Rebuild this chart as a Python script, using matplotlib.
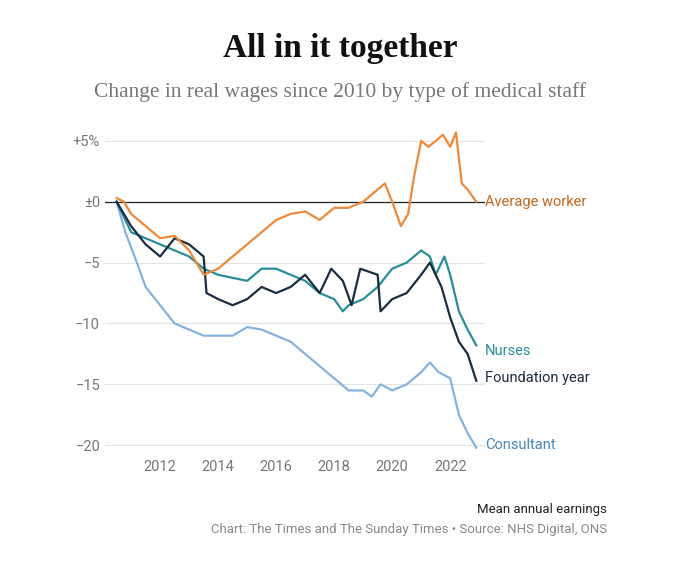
import matplotlib
matplotlib.use("Agg")
import matplotlib.pyplot as plt

# quarterly-ish readings
avg_x = [2010.5, 2010.75, 2011.0, 2011.5, 2012.0, 2012.5, 2013.0, 2013.25, 2013.5, 2014.0, 2014.5,
         2015.0, 2015.5, 2016.0, 2016.5, 2017.0, 2017.5, 2018.0, 2018.5, 2019.0, 2019.5, 2019.75,
         2020.0, 2020.3, 2020.55, 2020.75, 2021.0, 2021.25, 2021.5, 2021.75, 2022.0, 2022.2,
         2022.4, 2022.6, 2022.9]
avg_y = [0.3, 0, -1, -2, -3, -2.8, -4, -5, -6, -5.5, -4.5,
         -3.5, -2.5, -1.5, -1, -0.8, -1.5, -0.5, -0.5, 0, 1, 1.5,
         0, -2, -1, 2, 5, 4.5, 5, 5.5, 4.5, 5.7,
         1.5, 1, 0]

nur_x = [2010.5, 2011.0, 2012.0, 2012.5, 2013.0, 2013.5, 2014.0, 2015.0, 2015.5, 2016.0, 2016.5,
         2017.0, 2017.5, 2018.0, 2018.3, 2018.5, 2019.0, 2019.5, 2020.0, 2020.5, 2021.0, 2021.3,
         2021.5, 2021.8, 2022.0, 2022.3, 2022.6, 2022.9]
nur_y = [0, -2.5, -3.5, -4, -4.5, -5.5, -6, -6.5, -5.5, -5.5, -6,
         -6.5, -7.5, -8, -9, -8.5, -8, -7, -5.5, -5, -4, -4.5,
         -6, -4.5, -6, -9, -10.5, -11.8]

fy_x = [2010.5, 2011.0, 2011.5, 2012.0, 2012.5, 2013.0, 2013.5, 2013.6, 2014.0, 2014.5, 2015.0,
        2015.5, 2016.0, 2016.5, 2017.0, 2017.5, 2017.9, 2018.3, 2018.6, 2018.9, 2019.5, 2019.6,
        2020.0, 2020.5, 2021.0, 2021.3, 2021.7, 2022.0, 2022.3, 2022.6, 2022.9]
fy_y = [0, -2, -3.5, -4.5, -3, -3.5, -4.5, -7.5, -8, -8.5, -8,
        -7, -7.5, -7, -6, -7.5, -5.5, -6.5, -8.5, -5.5, -6, -9,
        -8, -7.5, -6, -5, -7, -9.5, -11.5, -12.5, -14.7]

con_x = [2010.5, 2010.8, 2011.2, 2011.5, 2012.0, 2012.5, 2013.0, 2013.5, 2014.0, 2014.5, 2015.0,
         2015.5, 2016.0, 2016.5, 2017.0, 2017.5, 2018.0, 2018.5, 2019.0, 2019.3, 2019.6, 2020.0,
         2020.5, 2021.0, 2021.3, 2021.6, 2022.0, 2022.3, 2022.6, 2022.9]
con_y = [0, -2.5, -5, -7, -8.5, -10, -10.5, -11, -11, -11, -10.3,
         -10.5, -11, -11.5, -12.5, -13.5, -14.5, -15.5, -15.5, -16, -15, -15.5,
         -15, -14, -13.2, -14, -14.5, -17.5, -19, -20.2]

yticks = [5, 0, -5, -10, -15, -20]
ytick_labels = ["+5%", "±0", "−5", "−10", "−15", "−20"]
xticks = [2012, 2014, 2016, 2018, 2020, 2022]

plt.rcParams['font.family'] = ['Roboto', 'DejaVu Sans']
fig = plt.figure(figsize=(6.8, 5.69), dpi=100)
ax = fig.add_axes([105/680, 1 - 455/569, 380/680, 330/569])

ax.plot(con_x, con_y, color="#86b3dd", lw=1.6)
ax.plot(nur_x, nur_y, color="#2a8e9a", lw=1.6)
ax.plot(fy_x, fy_y, color="#1b2d40", lw=1.6)
ax.plot(avg_x, avg_y, color="#ec8a3c", lw=1.6)
ax.axhline(0, color="#222222", lw=0.9, zorder=1)

ax.set_xlim(2010.1, 2023.2)
ax.set_ylim(-20.8, 6.3)
ax.set_yticks(yticks)
ax.set_yticklabels(ytick_labels)
ax.set_xticks(xticks)
ax.grid(axis="y", color="#e3e3e3", lw=0.8)
ax.set_axisbelow(True)
for s in ax.spines.values():
    s.set_visible(False)
ax.tick_params(length=0, colors="#777777", labelsize=10.5)

labels = [(avg_y[-1], "Average worker", "#c8661c"), (nur_y[-1] - 0.5, "Nurses", "#2a8e9a"),
          (fy_y[-1] + 0.2, "Foundation year", "#1b2d40"), (con_y[-1] + 0.2, "Consultant", "#4a86ba")]
for y, t, c in labels:
    ax.text(2023.2, y, t, color=c, fontsize=10.5, va="center", clip_on=False)

fig.text(0.5, 1 - 48/569, "All in it together", ha="center", va="center",
         fontsize=24, fontweight="bold", family=["Liberation Serif"], color="#111111")
fig.text(0.5, 1 - 92/569, "Change in real wages since 2010 by type of medical staff", ha="center",
         va="center", fontsize=15.5, family=["Liberation Serif"], color="#777777")
fig.text(607/680, 1 - 509/569, "Mean annual earnings", ha="right", va="center",
         fontsize=9.5, color="#222222")
fig.text(607/680, 1 - 530/569, "Chart: The Times and The Sunday Times • Source: NHS Digital, ONS",
         ha="right", va="center", fontsize=9.5, color="#888888")

fig.savefig("out.png", dpi=100)
